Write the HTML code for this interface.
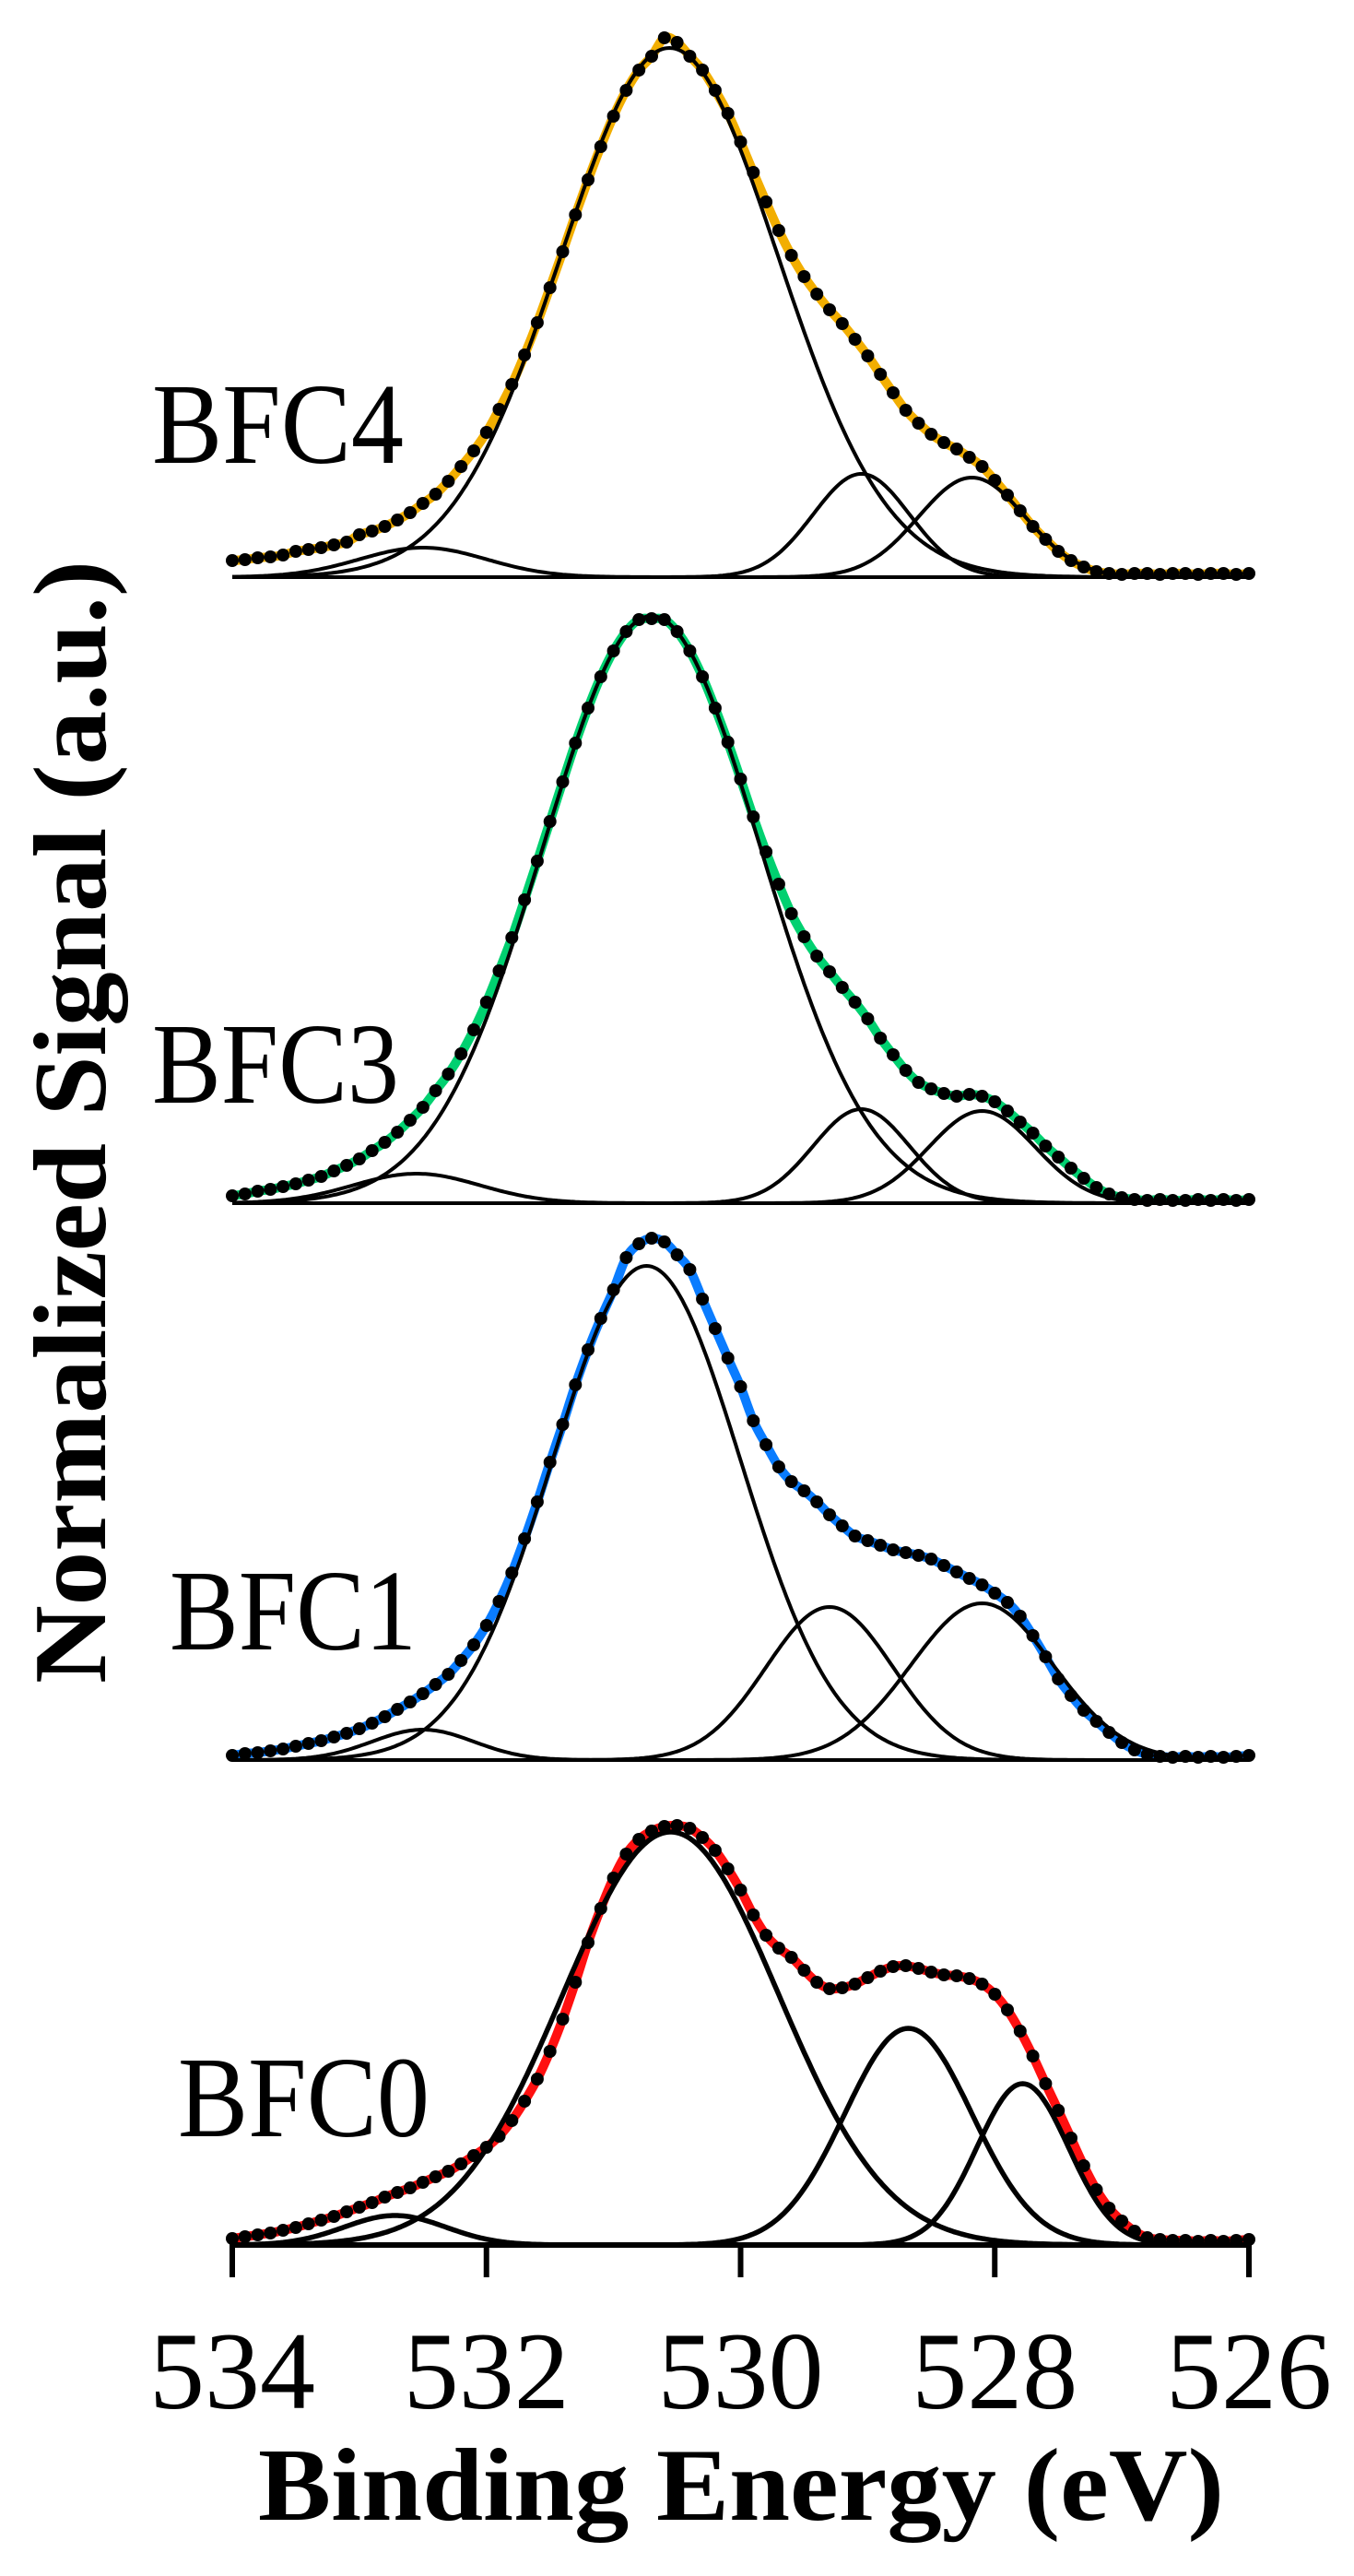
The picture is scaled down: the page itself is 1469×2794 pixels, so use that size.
<!DOCTYPE html>
<html><head><meta charset="utf-8"><style>
html,body{margin:0;padding:0;background:#fff;}
svg{display:block;}
</style></head><body>
<svg id="chart" width="1469" height="2794" viewBox="0 0 1469 2794" xmlns="http://www.w3.org/2000/svg">
<g id="panels"></g>
<g id="axis"></g>
<text transform="translate(114,1217) rotate(-90)" text-anchor="middle" font-family="Liberation Serif, serif" font-weight="bold" font-size="112" textLength="1218" lengthAdjust="spacingAndGlyphs">Normalized Signal (a.u.)</text>
<text x="804" y="2733" text-anchor="middle" font-family="Liberation Serif, serif" font-weight="bold" font-size="112" textLength="1048" lengthAdjust="spacingAndGlyphs">Binding Energy (eV)</text>
</svg>
<script>
// Energy grid 534.0 -> 526.0 step 0.1 eV
const energyStart = 534.0;
const energyStep = -0.1;
const xTicks = [534, 532, 530, 528, 526];
const panelNames = ["BFC4", "BFC3", "BFC1", "BFC0"];
const panelColors = ["#f2ae00", "#00d070", "#0a7cff", "#ff1010"];

const dataBFC4 = [18,19,21,22,24,28,30,32,35,38,46,50,55,62,70,80,90,104,120,137,157,182,209,241,276,314,353,393,431,467,500,528,550,565,585,580,565,550,528,503,472,439,407,376,349,326,307,290,275,258,240,220,200,181,167,155,146,139,130,120,105,89,72,55,41,28,18,11,6,4,3,4,4,3,4,4,3,4,4,3,4];
const dataBFC3 = [8,10,13,15,18,21,25,29,35,41,48,57,66,77,90,104,122,140,162,188,218,252,288,329,371,414,457,499,537,571,599,620,633,634,633,620,599,571,537,500,460,419,381,346,314,289,268,251,234,218,200,179,161,144,131,124,119,116,118,116,110,100,88,76,62,50,38,27,17,10,6,4,3,4,3,3,4,3,4,3,4];
const dataBFC1 = [5,7,8,10,12,15,18,21,25,29,34,40,47,55,63,72,82,93,108,125,146,172,203,240,280,323,364,407,445,479,510,545,560,566,562,548,532,500,468,436,405,368,342,318,302,292,280,266,254,243,238,233,228,225,222,218,211,204,197,190,181,171,156,135,112,88,70,54,42,30,19,11,6,4,3,4,3,4,3,4,5];
const dataBFC0 = [7,9,11,13,16,19,23,27,31,36,41,46,52,57,62,68,74,80,88,97,106,118,135,156,180,210,245,285,328,365,398,424,440,449,454,455,452,442,428,408,385,358,336,322,312,298,285,278,279,283,290,297,302,303,300,296,293,292,289,283,272,255,232,205,175,146,116,86,60,40,26,15,8,6,5,5,4,5,4,5,6];

// Fitted component peaks (center eV, height, sigma eV)
const centersBFC4 = [530.56, 529.05, 528.18, 532.5];
const heightsBFC4 = [574, 112, 108, 32];
const sigmasBFC4 = [0.855, 0.38, 0.42, 0.5];
const centersBFC3 = [530.7, 529.05, 528.1, 532.55];
const heightsBFC3 = [637, 102, 100, 32];
const sigmasBFC3 = [0.855, 0.38, 0.42, 0.5];
const centersBFC1 = [530.74, 529.3, 528.1, 532.5];
const heightsBFC1 = [536, 166, 170, 33];
const sigmasBFC1 = [0.74, 0.5, 0.56, 0.4];
const centersBFC0 = [530.55, 528.68, 527.78, 532.72];
const heightsBFC0 = [448, 235, 175, 32];
const sigmasBFC0 = [0.85, 0.5, 0.36, 0.4];

const allData = [dataBFC4, dataBFC3, dataBFC1, dataBFC0];
const allCenters = [centersBFC4, centersBFC3, centersBFC1, centersBFC0];
const allHeights = [heightsBFC4, heightsBFC3, heightsBFC1, heightsBFC0];
const allSigmas = [sigmasBFC4, sigmasBFC3, sigmasBFC1, sigmasBFC0];

// layout
const X0 = 252, PXPEREV = 137.875;
const baselines = [626, 1305, 1909, 2435];
const labelPos = [[165,502,273],[165,1196,268],[184,1789,268],[193,2317,273]];
function xScale(e){ return X0 + (534 - e) * PXPEREV; }
function yScale(v, p){ return baselines[p] - v; }

const NS = "http://www.w3.org/2000/svg";
const panelsG = document.getElementById('panels');
const axisG = document.getElementById('axis');
function mk(tag, attrs, parent){ const el=document.createElementNS(NS,tag); for(const k in attrs) el.setAttribute(k, attrs[k]); parent.appendChild(el); return el; }

function smoothPath(pts){
  let d = "M" + pts[0][0].toFixed(1) + "," + pts[0][1].toFixed(1);
  for(let i=0;i<pts.length-1;i++){
    const p0=pts[Math.max(0,i-1)], p1=pts[i], p2=pts[i+1], p3=pts[Math.min(pts.length-1,i+2)];
    const c1=[p1[0]+(p2[0]-p0[0])/6, p1[1]+(p2[1]-p0[1])/6];
    const c2=[p2[0]-(p3[0]-p1[0])/6, p2[1]-(p3[1]-p1[1])/6];
    d += "C"+c1[0].toFixed(1)+","+c1[1].toFixed(1)+" "+c2[0].toFixed(1)+","+c2[1].toFixed(1)+" "+p2[0].toFixed(1)+","+p2[1].toFixed(1);
  }
  return d;
}

for(let p=0;p<4;p++){
  const g = mk('g',{},panelsG);
  
  
  const data = allData[p];
  const pts = data.map((v,i)=>[xScale(energyStart + i*energyStep), yScale(v,p)]);
  const bl = mk('line',{x1:xScale(534),x2:xScale(526),y1:baselines[p],y2:baselines[p],stroke:'#000','stroke-width':p===3?6:4},g);
  
  
  const env = mk('path',{d:smoothPath(pts),fill:'none',stroke:panelColors[p],'stroke-width':10,'stroke-linejoin':'round','stroke-linecap':'round'},g);
  
  
  const cs = allCenters[p], hs = allHeights[p], ss = allSigmas[p];
  for(let c=0;c<cs.length;c++){
    const cp=[];
    for(let k=0;k<=400;k++){
      const e = 534 - k*0.02;
      const v = hs[c]*Math.exp(-Math.pow(e-cs[c],2)/(2*ss[c]*ss[c]));
      cp.push([xScale(e), yScale(v,p)]);
    }
    const d = "M"+cp.map(q=>q[0].toFixed(1)+","+q[1].toFixed(1)).join("L");
    const comp = mk('path',{d:d,fill:'none',stroke:'#000','stroke-width':p===3?5.5:4},g);
    
    
  }
  for(let i=0;i<data.length;i++){
    const dot = mk('circle',{cx:pts[i][0].toFixed(1),cy:pts[i][1].toFixed(1),r:7,fill:'#000'},g);
    
    
  }
  const lp = labelPos[p];
  const t = mk('text',{x:lp[0],y:lp[1],'font-family':'Liberation Serif, serif','font-size':125,textLength:lp[2],lengthAdjust:'spacingAndGlyphs',fill:'#000'},g);
  t.textContent = panelNames[p];
  
  
}

for(const tv of xTicks){
  const x = xScale(tv);
  const tk = mk('line',{x1:x,x2:x,y1:2432,y2:2470,stroke:'#000','stroke-width':6},axisG);
  
  
  const tl = mk('text',{x:x,y:2612,'text-anchor':'middle','font-family':'Liberation Serif, serif','font-size':120,fill:'#000'},axisG);
  tl.textContent = String(tv);
  
  
}
</script>
</body></html>
